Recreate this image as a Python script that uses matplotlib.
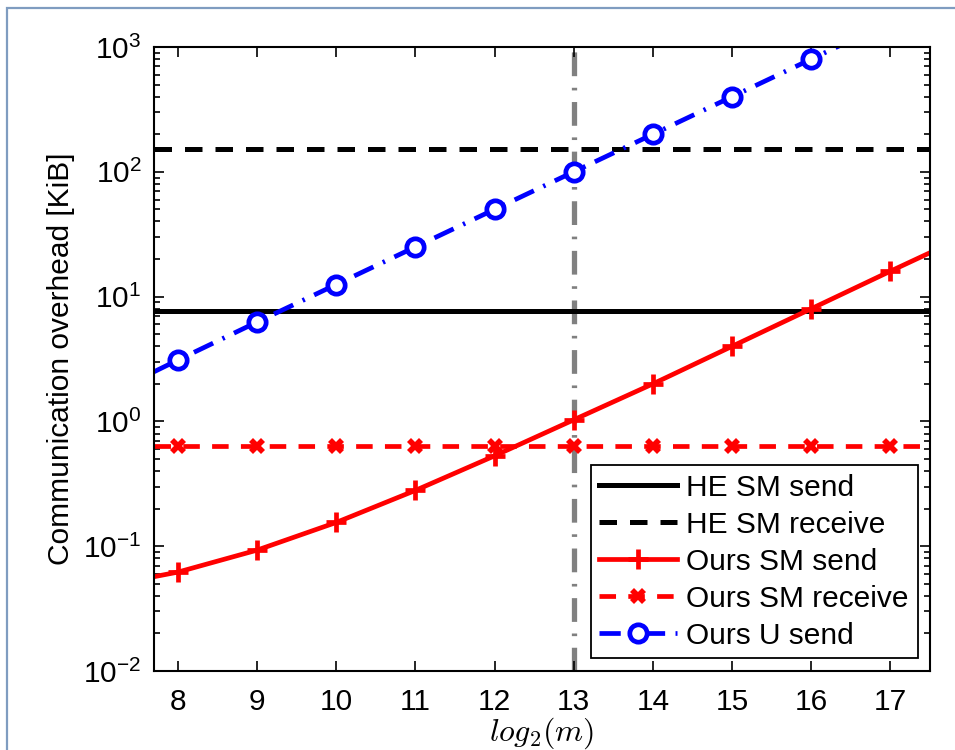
import numpy as np
import matplotlib
matplotlib.use("Agg")
import matplotlib.pyplot as plt
from matplotlib.patches import Rectangle

plt.rcParams['font.family'] = ['Liberation Sans', 'DejaVu Sans']
plt.rcParams['mathtext.fontset'] = 'cm'

# --- data ---
m_log = [8, 9, 10, 11, 12, 13, 14, 15, 16, 17]
x_left, x_right = 7.7, 17.5

he_sm_send = 7.6
he_sm_receive = 152.0

ours_sm_send = [0.062, 0.093, 0.155, 0.28, 0.53, 1.03, 2.0, 4.0, 8.0, 16.0]
ours_sm_send_ends = [0.057, 22.5]          # values at x_left / x_right
ours_sm_receive = 0.63
ours_u_send = [3.1, 6.25, 12.5, 25, 50, 100, 200, 400, 800, 1600]
ours_u_send_ends = [2.5, 3200]

threshold_x = 13

FS = 21.5

fig = plt.figure(figsize=(9.55, 7.5), dpi=100)
ax = fig.add_axes([0.1613, 0.1053, 0.8126, 0.832])

# helper to extend a series to the axis edges, markers only on the integer points
def extend(xs, ys, ends):
    return [x_left] + list(xs) + [x_right], [ends[0]] + list(ys) + [ends[1]]

mk = slice(1, -1)
dashdot = (0, (4.5, 2.2, 0.5, 2.2))

ax.plot([x_left, x_right], [he_sm_send] * 2, color='k', lw=3.6, label='HE SM send')
ax.plot([x_left, x_right], [he_sm_receive] * 2, color='k', lw=3.6, ls=(0, (3.5, 2.6)),
        label='HE SM receive')

xs, ys = extend(m_log, ours_sm_send, ours_sm_send_ends)
ax.plot(xs, ys, color='r', lw=3.4, marker='+', ms=14, mew=3.4, markevery=mk,
        label='Ours SM send')

xs, ys = extend(m_log, [ours_sm_receive] * len(m_log), [ours_sm_receive] * 2)
ax.plot(xs, ys, color='r', lw=3.4, ls=(0, (3.5, 2.6)), marker='X', ms=11, mew=0,
        markevery=mk, label='Ours SM receive')

xs, ys = extend(m_log, ours_u_send, ours_u_send_ends)
ax.plot(xs, ys, color='b', lw=3.4, ls=dashdot, marker='o', ms=12.5,
        mfc='white', mew=3.4, markevery=mk, label='Ours U send')

ax.axvline(threshold_x, color='#808080', lw=3.8, ls=dashdot, zorder=1)

ax.set_yscale('log')
ax.set_xlim(x_left, x_right)
ax.set_ylim(1e-2, 1e3)
ax.set_xticks(m_log)
ax.set_yticks([1e-2, 1e-1, 1e0, 1e1, 1e2, 1e3])

ax.tick_params(which='both', direction='in', top=True, right=True, labelsize=FS,
               width=1.2)
ax.tick_params(which='major', length=7, pad=9)
ax.tick_params(which='minor', length=4)
ax.tick_params(axis='x', pad=12)
for s in ax.spines.values():
    s.set_linewidth(1.5)

ax.set_ylabel('Communication overhead [KiB]', fontsize=FS, labelpad=6)
ax.set_xlabel(r'$log_2(m)$', fontsize=23, labelpad=0)

leg = ax.legend(loc='lower right', fontsize=FS, frameon=True, fancybox=False,
                edgecolor='k', framealpha=1, handlelength=2.6, labelspacing=0.3,
                borderaxespad=0.42, handletextpad=0.3, borderpad=0.3)
leg.get_frame().set_linewidth(1.3)

# thin frame of the original figure window
fig.patches.append(Rectangle((7 / 955, -0.1), 1.2, 0.1 + (1 - 8 / 750),
                             transform=fig.transFigure, fill=False,
                             edgecolor='#7f9cc0', lw=1.6))

fig.savefig('out.png', dpi=100)
